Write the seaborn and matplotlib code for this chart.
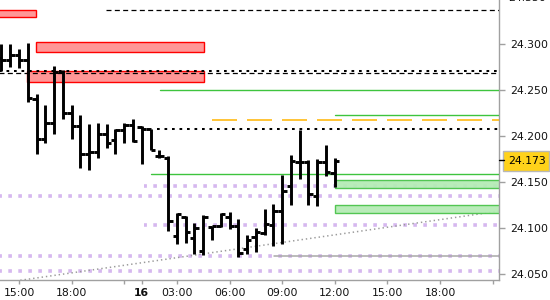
import numpy as np
import pandas as pd
import matplotlib
matplotlib.use("Agg")
import matplotlib.pyplot as plt
import matplotlib.transforms as mtransforms
from matplotlib.patches import Rectangle
import seaborn as sns

sns.set_style("white")
plt.rcParams["font.family"] = ["DejaVu Sans"]
plt.rcParams["lines.scale_dashes"] = False

# ---- OHLC data (30-minute bars) ----
opens = [24.285, 24.2826, 24.288, 24.2826, 24.240, 24.1964, 24.2138, 24.2699, 24.2253, 24.2112,
         24.1804, 24.1826, 24.2018, 24.1957, 24.2065, 24.212, 24.2101, 24.2076, 24.1786, 24.1764,
         24.0913, 24.1123, 24.0888, 24.0753, 24.1014, 24.1022, 24.1123, 24.1022, 24.0768, 24.0899,
         24.0949, 24.1033, 24.1185, 24.1457, 24.1721, 24.1721, 24.1348, 24.1721, 24.1601]
highs = [24.2997, 24.2997, 24.2946, 24.3008, 24.2453, 24.2337, 24.2761, 24.2717, 24.2337, 24.2228,
         24.2127, 24.2138, 24.2127, 24.2073, 24.2138, 24.2182, 24.2109, 24.2076, 24.1848, 24.1777,
         24.116, 24.113, 24.1054, 24.1141, 24.1022, 24.116, 24.1177, 24.1095, 24.0924, 24.0997,
         24.1203, 24.1261, 24.1576, 24.1793, 24.2065, 24.1739, 24.1747, 24.1902, 24.1758]
lows = [24.2707, 24.2753, 24.2736, 24.2373, 24.180, 24.192, 24.2018, 24.2182, 24.1964, 24.1655,
        24.163, 24.1764, 24.1866, 24.180, 24.192, 24.1938, 24.1692, 24.1848, 24.1758, 24.0967,
        24.0826, 24.084, 24.0717, 24.0707, 24.087, 24.1014, 24.0986, 24.0688, 24.0717, 24.0734,
        24.0924, 24.0804, 24.0826, 24.125, 24.1533, 24.125, 24.1239, 24.1565, 24.1442]
closes = [24.2826, 24.288, 24.2826, 24.2413, 24.1964, 24.2138, 24.2699, 24.2253, 24.2112, 24.1804,
          24.1826, 24.2018, 24.1921, 24.2065, 24.212, 24.1946, 24.2076, 24.1848, 24.1786, 24.1079,
          24.1152, 24.096, 24.0997, 24.1123, 24.1022, 24.1152, 24.1022, 24.0725, 24.087, 24.096,
          24.1043, 24.1185, 24.1405, 24.1728, 24.1721, 24.137, 24.1721, 24.1612, 24.173]

# ---- axis labels ----
tick_pos = [2, 8, 16, 20, 26, 32, 38, 44, 50]
tick_labels = ["15:00", "18:00", "16", "03:00", "06:00", "09:00", "12:00", "15:00", "18:00"]
minor_pos = [14, 56]
y_ticks = [24.05, 24.10, 24.15, 24.20, 24.25, 24.30]
last_price = 24.173

# ---- overlay levels ----
red_lo = [24.3298, 24.2916, 24.259]
red_hi = [24.337, 24.3018, 24.2707]
red_start = [-1.0, 3.94, 2.95]
red_end = [3.94, 23.12, 23.12]

green_lo = [24.1431, 24.116]
green_hi = [24.1518, 24.1247]
green_start = [38.0, 38.0]

green_levels = [24.25, 24.2225, 24.1587]
green_level_start = [18.07, 38.0, 17.05]

black_dash_levels = [24.337, 24.2685]
black_dash_start = [11.92, -1.0]
black_dot_levels = [24.271, 24.2076]
black_dot_start = [-1.0, 17.73]
orange_level = 24.2174
orange_start = 24.0

lav_levels = [24.146, 24.1351, 24.1033, 24.0696, 24.0533]
lav_start = [16.25, -1.0, 16.25, -1.0, -1.0]

gray_level = 24.07
gray_start = 31.07
trend_x = [-1.0, 58.0]
trend_y = [24.0388, 24.1201]

XMIN, XMAX = -0.166, 56.72
YMIN, YMAX = 24.044, 24.3478
XEND = 60

fig = plt.figure(figsize=(5.5, 3.0), dpi=100)
ax = fig.add_axes([0.0, 0.0683, 0.9073, 0.9317])

# lavender dotted levels
for lv, st in zip(lav_levels, lav_start):
    ax.plot([st, XEND], [lv, lv], color="#D6B8EF", lw=2.6,
            linestyle=(0.5, (2.6, 4.6)), zorder=1)

# gray line + trendline
ax.plot([gray_start, XEND], [gray_level, gray_level], color="#A8A8A8", lw=1.1, zorder=2)
ax.plot(trend_x, trend_y, color="#9A9A9A", lw=1.1, linestyle=(0, (1.0, 2.1)), zorder=2)

# red zones
for lo, hi, s, e in zip(red_lo, red_hi, red_start, red_end):
    ax.add_patch(Rectangle((s, lo), e - s, hi - lo, facecolor="#FF9797",
                           edgecolor="#FF0000", lw=1.0, zorder=2))
# green zones
for lo, hi, s in zip(green_lo, green_hi, green_start):
    ax.add_patch(Rectangle((s, lo), XEND - s, hi - lo, facecolor="#B5EBB5",
                           edgecolor="#4CC44C", lw=1.0, alpha=0.95, zorder=2))

# green levels
for lv, st in zip(green_levels, green_level_start):
    ax.plot([st, XEND], [lv, lv], color="#3EC43E", lw=1.0, zorder=3)

# black dashed / dotted
for lv, st in zip(black_dash_levels, black_dash_start):
    ax.plot([st, XEND], [lv, lv], color="black", lw=0.9,
            linestyle=(0, (3.6, 2.4)), zorder=3)
for lv, st in zip(black_dot_levels, black_dot_start):
    ax.plot([st, XEND], [lv, lv], color="black", lw=1.45,
            linestyle=(0, (1.95, 3.45)), zorder=3)

# orange dashed
ax.plot([orange_start, XEND], [orange_level, orange_level], color="#FFB400", lw=1.1,
        linestyle=(0, (18.0, 7.2)), zorder=3)

# ---- OHLC bars via seaborn ----
rows = []
for i, (o, h, l, c) in enumerate(zip(opens, highs, lows, closes)):
    rows += [(i, l, f"hl{i}"), (i, h, f"hl{i}")]
    rows += [(i - 0.5, o, f"o{i}"), (i, o, f"o{i}")]
    rows += [(i, c, f"c{i}"), (i + 0.5, c, f"c{i}")]
seg = pd.DataFrame(rows, columns=["x", "price", "unit"])
sns.lineplot(data=seg, x="x", y="price", units="unit", estimator=None, sort=False,
             color="black", lw=2.1, solid_capstyle="butt", ax=ax, legend=False, zorder=5)

ax.set_xlim(XMIN, XMAX)
ax.set_ylim(YMIN, YMAX)
ax.set_xlabel("")
ax.set_ylabel("")

for s in ["left", "top"]:
    ax.spines[s].set_visible(False)
for s in ["right", "bottom"]:
    ax.spines[s].set_color("#A0A0A0")
    ax.spines[s].set_linewidth(1.0)

ax.yaxis.tick_right()
ax.set_yticks(y_ticks)
ax.set_yticklabels([f"{v:.3f}" for v in y_ticks])
ax.tick_params(axis="y", which="both", right=True, left=False, length=4, width=1,
               color="#A0A0A0", pad=4, labelsize=7.8, labelcolor="#111111")

ax.set_xticks(tick_pos)
ax.set_xticklabels(tick_labels)
ax.set_xticks(minor_pos, minor=True)
ax.tick_params(axis="x", which="both", bottom=True, length=3, width=1, direction="out",
               color="#A0A0A0", pad=3, labelsize=7.8, labelcolor="#111111")
for lab in ax.get_xticklabels():
    if lab.get_text() == "16":
        lab.set_fontweight("bold")

# partially visible top label (cut by the figure edge, as in the reference)
ybl = mtransforms.blended_transform_factory(ax.transAxes, ax.transData)
ax.text(1.0 + 9 / 499, 24.35, "24.350", transform=ybl, ha="left", va="center",
        fontsize=7.8, color="#111111", clip_on=False)

# current price marker
fbl = mtransforms.blended_transform_factory(fig.transFigure, ax.transData)
ax.add_patch(Rectangle((503 / 550, last_price - 0.0108), 46 / 550, 0.0216, transform=fbl,
                       facecolor="#FFD21A", edgecolor="#B8B8B8", lw=1.0, clip_on=False,
                       zorder=6))
ax.text(527 / 550, last_price, f"{last_price:.3f}", transform=fbl, ha="center",
        va="center", fontsize=7.8, color="black", clip_on=False, zorder=7)
ax.plot([1.0, 1.0 + 5 / 499], [last_price + 0.001, last_price + 0.001], transform=ybl,
        color="black", lw=1.0, clip_on=False, zorder=7)

fig.savefig("out.png", dpi=100)
